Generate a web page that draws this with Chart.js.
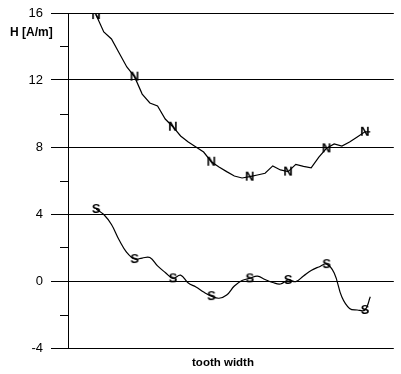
<!DOCTYPE html>
<html>
<head>
<meta charset="utf-8">
<script src="https://cdn.jsdelivr.net/npm/chart.js@4.4.1/dist/chart.umd.min.js"></script>
<style>
  html, body { margin: 0; padding: 0; background: #fff; }
  #wrap { width: 401px; height: 374px; }
</style>
</head>
<body>
<div id="wrap"><canvas id="fieldChart" width="401" height="374"></canvas></div>
<script>
// sample positions along the tooth (marker on every 5th sample)
const toothPos = [0, 1, 2, 3, 4, 5, 6, 7, 8, 9, 10, 11, 12, 13, 14, 15, 16, 17, 18,
    19, 20, 21, 22, 23, 24, 25, 26, 27, 28, 29, 30, 31, 32, 33, 34, 35, 35.7];

// field strength H [A/m] under the north and south pole
const northField = [15.88, 14.87, 14.45, 13.61, 12.78, 12.2, 11.16, 10.63, 10.45, 9.67,
    9.21, 8.66, 8.3, 8.0, 7.7, 7.12, 6.81, 6.53, 6.27, 6.15,
    6.23, 6.33, 6.43, 6.87, 6.63, 6.53, 6.96, 6.84, 6.75, 7.4,
    7.92, 8.18, 8.06, 8.3, 8.6, 8.91, 8.9];
const southField = [4.3, 3.97, 3.37, 2.45, 1.7, 1.31, 1.37, 1.4, 0.9, 0.51,
    0.16, 0.35, -0.12, -0.36, -0.66, -0.9, -1.03, -0.84, -0.3, 0.03,
    0.16, 0.29, 0.09, -0.09, -0.18, 0.06, -0.04, 0.3, 0.63, 0.84,
    1.01, 0.48, -0.96, -1.64, -1.73, -1.73, -0.94];

const yMin = -4;
const yMax = 16;
const yStep = 4;
const minorTicks = [-2, 2, 6, 10, 14];
const markerEvery = 5;

const FONT = '"Liberation Sans", Arial, sans-serif';

// small canvas with a bold letter, used as point style
function letterMarker(ch) {
    const c = document.createElement('canvas');
    c.width = 16;
    c.height = 16;
    const g = c.getContext('2d');
    g.font = 'bold 13px ' + FONT;
    g.textAlign = 'center';
    g.textBaseline = 'middle';
    g.fillStyle = '#000';
    g.fillText(ch, 8, 8.5);
    return c;
}

const toPoints = (values) => values.map((v, i) => ({ x: toothPos[i], y: v }));
const markerRadius = (ctx) => (ctx.dataIndex % markerEvery === 0 && ctx.dataIndex < 36 ? 6 : 0);

// minor ticks on the y axis and the two axis captions
const axisExtras = {
    id: 'axisExtras',
    afterDraw(chart) {
        const { ctx, chartArea } = chart;
        const y = chart.scales.y;
        ctx.save();
        ctx.strokeStyle = '#000';
        ctx.lineWidth = 1;
        minorTicks.forEach(v => {
            const py = Math.round(y.getPixelForValue(v)) + 0.5;
            ctx.beginPath();
            ctx.moveTo(chartArea.left - 8, py);
            ctx.lineTo(chartArea.left, py);
            ctx.stroke();
        });
        ctx.fillStyle = '#000';
        ctx.font = 'bold 12px ' + FONT;
        ctx.textAlign = 'left';
        ctx.textBaseline = 'middle';
        ctx.fillText('H [A/m]', 10, 33);
        ctx.textAlign = 'center';
        ctx.font = 'bold 11.5px ' + FONT;
        ctx.fillText('tooth width', chartArea.left + 155, chartArea.bottom + 15);
        ctx.restore();
    }
};

const ctx = document.getElementById('fieldChart').getContext('2d');
window.fieldChart = new Chart(ctx, {
    type: 'line',
    data: {
        datasets: [{
            label: 'N',
            data: toPoints(northField),
            borderColor: '#000',
            borderWidth: 1.2,
            tension: 0,
            pointStyle: letterMarker('N'),
            pointRadius: markerRadius
        }, {
            label: 'S',
            data: toPoints(southField),
            borderColor: '#000',
            borderWidth: 1.2,
            tension: 0.4,
            pointStyle: letterMarker('S'),
            pointRadius: markerRadius
        }]
    },
    options: {
        responsive: false,
        animation: false,
        devicePixelRatio: 1,
        layout: { padding: { top: 13, bottom: 26, left: 0, right: 0 } },
        plugins: {
            legend: { display: false },
            tooltip: { enabled: false }
        },
        scales: {
            x: {
                type: 'linear',
                display: false,
                min: -3.66,
                max: 38.76
            },
            y: {
                min: yMin,
                max: yMax,
                afterFit: (scale) => {
                    scale.width = 68;
                    scale.paddingTop = 0;
                    scale.paddingBottom = 0;
                },
                ticks: {
                    stepSize: yStep,
                    padding: 8,
                    color: '#000',
                    font: { family: FONT, size: 13 }
                },
                grid: {
                    color: '#000',
                    lineWidth: 1,
                    tickLength: 17,
                    tickColor: '#000'
                },
                border: { color: '#000', width: 1 }
            }
        }
    },
    plugins: [axisExtras]
});
</script>
</body>
</html>
